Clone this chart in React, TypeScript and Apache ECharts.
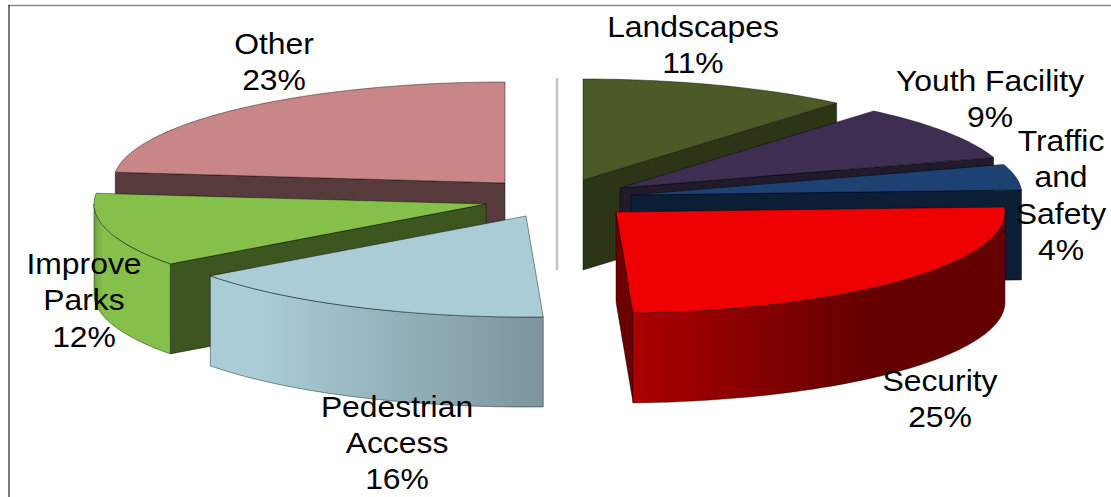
import React, { useEffect, useRef } from "react";
import * as echarts from "echarts";

// ---- data (clockwise from 12 o'clock) ----
const categories = [
  "Landscapes",
  "Youth Facility",
  "Traffic\nand\nSafety",
  "Security",
  "Pedestrian\nAccess",
  "Improve\nParks",
  "Other",
];
const shares = [11.2, 8.9, 4.1, 25.1, 15.6, 11.8, 23.3];

// ---- layout and style ----
const paintOrder = [6, 0, 1, 2, 3, 5, 4];
const apexX = [583, 620, 631, 616, 526, 486, 505];
const apexY = [180, 188, 195, 212, 216, 204, 183];
const radiiX = [392, 392, 391, 389, 392, 392, 392];
const labelX = [693, 990, 1061, 940, 397, 84, 274];
const labelY = [27, 81, 141, 381, 406.5, 264, 44];
const topColors = ["#4b5a26", "#3e2f52", "#1d4172", "#ee0000", "#a9ccd6", "#85c04a", "#c88686"];
const cutColors = ["#2c3516", "#201a2c", "#0c1e35", "#6b0000", "#7d959d", "#3d5620", "#573a3b"];
const wallStops: [number, string][][] = [
  [[0, "#2c3516"], [1, "#2c3516"]],
  [[0, "#201a2c"], [1, "#201a2c"]],
  [[0, "#0c1e35"], [1, "#0c1e35"]],
  [[0, "#ac0000"], [0.62, "#650000"], [1, "#650000"]],
  [[0, "#a9ccd6"], [0.15, "#a9ccd6"], [1, "#7d959d"]],
  [[0, "#6fa33e"], [0.12, "#85c04a"], [1, "#85c04a"]],
  [[0, "#573a3b"], [1, "#573a3b"]],
];
const RY = 101;
const DEPTH = 90;
const FONT_SIZE = 29.5;
const LINE_PITCH = 36.4;
const TEXT_STRETCH = 1.08;
const FONT_FAMILY = '"Liberation Sans", Arial, sans-serif';
const EDGE = "rgba(0,0,0,0.6)";

const total = shares.reduce((a, b) => a + b, 0);
const startAngles = shares.map((_, i) => (shares.slice(0, i).reduce((a, b) => a + b, 0) / total) * 360);
const endAngles = startAngles.map((a, i) => a + (shares[i] / total) * 360);

const rad = (d: number) => (d * Math.PI) / 180;

function rimPoint(i: number, deg: number, drop = 0): number[] {
  return [apexX[i] + radiiX[i] * Math.sin(rad(deg)), apexY[i] - RY * Math.cos(rad(deg)) + drop];
}

function arcPoints(i: number, a: number, b: number, drop = 0): number[][] {
  const steps = Math.max(2, Math.ceil(Math.abs(b - a)));
  const pts: number[][] = [];
  for (let k = 0; k <= steps; k++) pts.push(rimPoint(i, a + ((b - a) * k) / steps, drop));
  return pts;
}

function cutFace(i: number, deg: number) {
  const rim = rimPoint(i, deg);
  return {
    type: "polygon",
    shape: {
      points: [
        [apexX[i], apexY[i]],
        rim,
        [rim[0], rim[1] + DEPTH],
        [apexX[i], apexY[i] + DEPTH],
      ],
    },
    style: { fill: cutColors[i], stroke: EDGE, lineWidth: 0.7 },
  };
}

function renderSlice(params: any) {
  const i = paintOrder[params.dataIndex];
  const a = startAngles[i];
  const b = endAngles[i];
  const children: any[] = [];

  if (Math.sin(rad(a)) < -1e-6) children.push(cutFace(i, a));
  if (Math.sin(rad(b)) > 1e-6) children.push(cutFace(i, b));

  const wa = Math.max(a, 90);
  const wb = Math.min(b, 270);
  if (wb > wa) {
    children.push({
      type: "polygon",
      shape: {
        points: [...arcPoints(i, wa, wb), ...arcPoints(i, wb, wa, DEPTH)],
      },
      style: {
        fill: new echarts.graphic.LinearGradient(
          0,
          0,
          1,
          0,
          wallStops[i].map(([offset, color]) => ({ offset, color }))
        ),
        stroke: EDGE,
        lineWidth: 0.7,
      },
    });
  }

  children.push({
    type: "polygon",
    shape: { points: [[apexX[i], apexY[i]], ...arcPoints(i, a, b)] },
    style: { fill: topColors[i], stroke: EDGE, lineWidth: 0.7 },
  });

  return { type: "group", children };
}

function renderLabel(params: any) {
  const i = params.dataIndex;
  const lines = [...categories[i].split("\n"), `${Math.round(shares[i])}%`];
  return {
    type: "group",
    children: lines.map((text, k) => ({
      type: "text",
      x: labelX[i],
      y: labelY[i] + k * LINE_PITCH,
      scaleX: TEXT_STRETCH,
      style: {
        x: 0,
        y: 0,
        text,
        fill: "#000000",
        fontSize: FONT_SIZE,
        fontFamily: FONT_FAMILY,
        lineHeight: FONT_SIZE,
        align: "center",
        verticalAlign: "middle",
      },
    })),
  };
}

export default function App() {
  const ref = useRef<HTMLDivElement>(null);

  useEffect(() => {
    if (!ref.current) return;
    const chart = echarts.init(ref.current, undefined, { renderer: "svg" });
    chart.setOption({
      animation: false,
      backgroundColor: "#ffffff",
      graphic: [
        { type: "line", z: 0, shape: { x1: 8, y1: 5.5, x2: 1111, y2: 5.5 }, style: { stroke: "#8a8a8a", lineWidth: 1.5 } },
        { type: "line", z: 0, shape: { x1: 9, y1: 5, x2: 9, y2: 497 }, style: { stroke: "#222222", lineWidth: 1.2 } },
        { type: "line", z: 0, shape: { x1: 557, y1: 78, x2: 557, y2: 270 }, style: { stroke: "#c4c4c4", lineWidth: 2.5 } },
      ],
      series: [
        {
          type: "custom",
          coordinateSystem: "none",
          z: 2,
          silent: true,
          renderItem: renderSlice,
          data: paintOrder.map((i) => ({ name: categories[i], value: [shares[i]] })),
        },
        {
          type: "custom",
          coordinateSystem: "none",
          z: 3,
          silent: true,
          renderItem: renderLabel,
          data: categories.map((name, i) => ({ name, value: [shares[i]] })),
        },
      ],
    });
    return () => chart.dispose();
  }, []);

  return (
    <div
      ref={ref}
      style={{ position: "absolute", left: 0, top: 0, width: 1111, height: 497, background: "#fff" }}
    />
  );
}
